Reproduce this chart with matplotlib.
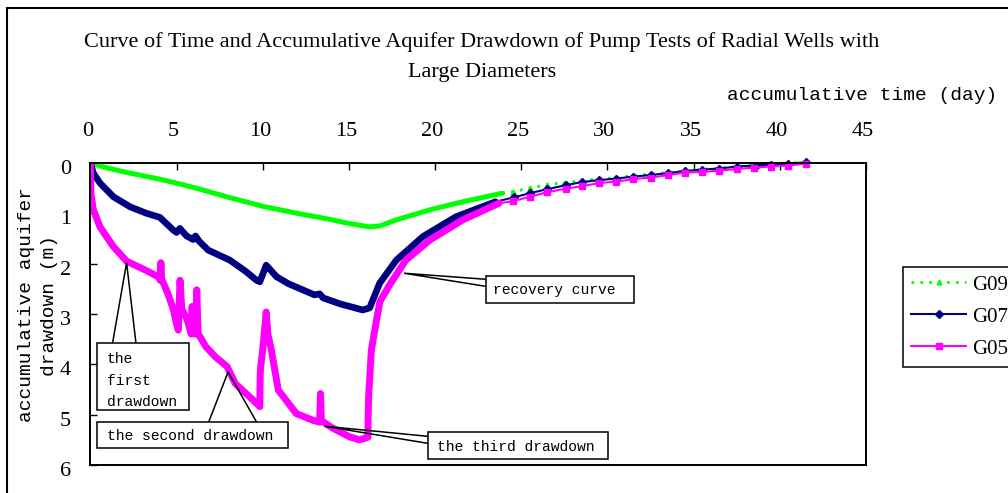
#Curvas de tiempo y abatimiento acumulado - pozos radiales G09, G07, G05
import numpy as np
import matplotlib
matplotlib.use("Agg")
from matplotlib import pyplot as plt
from matplotlib.patches import Rectangle, Polygon
from matplotlib.transforms import ScaledTranslation

plt.rcParams['font.family'] = ['Liberation Serif', 'DejaVu Serif']

#G09: pumping and early recovery records (dense), then daily readings
g09_t = [0, 1, 2, 3, 4, 5, 6.35, 8, 10, 12, 13.9, 15, 16.2, 16.8, 17.75, 19.7, 21.6, 23.9]
g09_s = [0, 0.1, 0.18, 0.25, 0.32, 0.4, 0.52, 0.68, 0.86, 1.0, 1.12, 1.2, 1.27, 1.25, 1.13, 0.93, 0.77, 0.6]
g09_day_t = [24.5, 25.5, 26.5, 27.5, 28.5, 29.5, 30.5, 31.5, 32.5, 33.5, 34.5, 35.5, 36.5, 37.5, 38.5, 39.5, 40.5, 41.5]
g09_day_s = [0.57, 0.50, 0.43, 0.39, 0.35, 0.32, 0.29, 0.25, 0.22, 0.19, 0.16, 0.13, 0.10, 0.07, 0.04, 0.02, 0.0, -0.02]

#G07
g07_t = [0, 0.17, 0.56, 1.33, 2.3, 3.26, 4.03, 4.8, 5.0, 5.19, 5.58, 5.96, 6.1, 6.3, 6.83, 8.09, 9.0,
         9.64, 9.83, 10.2, 10.8, 11.5, 13.0, 13.3, 13.5, 14.5, 15.8, 16.2, 16.78, 17.75, 19.3, 21.2, 23.5]
g07_s = [0, 0.2, 0.4, 0.67, 0.87, 1.0, 1.08, 1.33, 1.38, 1.3, 1.45, 1.52, 1.45, 1.55, 1.73, 1.93, 2.15,
         2.33, 2.36, 2.03, 2.26, 2.4, 2.62, 2.6, 2.68, 2.8, 2.92, 2.88, 2.39, 1.93, 1.46, 1.07, 0.77]
g07_day_t = [24.6, 25.5, 26.5, 27.6, 28.5, 29.5, 30.5, 31.5, 32.5, 33.5, 34.5, 35.5, 36.5, 37.5, 38.6, 39.5, 40.5, 41.5]
g07_day_s = [0.68, 0.6, 0.52, 0.44, 0.38, 0.34, 0.31, 0.27, 0.24, 0.2, 0.16, 0.13, 0.11, 0.07, 0.05, 0.03, 0.01, -0.01]

#G05
g05_t = [0, 0.01, 0.03, 0.17, 0.56, 1.33, 2.1, 3.26, 3.93, 4.05, 4.09, 4.13, 4.5, 4.8, 5.0, 5.1,
         5.2, 5.3, 5.6, 5.85, 5.9, 5.95, 6.1, 6.17, 6.25, 6.7, 7.25, 7.94, 8.4, 9.25, 9.83,
         9.85, 9.87, 10.0, 10.2, 10.3, 10.5, 10.9, 11.95, 12.9, 13.3, 13.35, 13.4, 14.07, 15.04,
         15.6, 16.1, 16.12, 16.15, 16.2, 16.3, 16.6, 16.8, 17.4, 18.3, 19.7, 21.6, 23.7]
g05_s = [0, 0.3, 0.6, 0.93, 1.27, 1.66, 1.95, 2.14, 2.26, 2.33, 1.98, 2.3, 2.6, 2.9, 3.2, 3.32,
         2.33, 2.9, 3.1, 3.4, 2.85, 3.2, 3.4, 2.52, 3.39, 3.65, 3.85, 4.05, 4.38, 4.65, 4.84,
         4.25, 4.08, 3.7, 2.96, 3.4, 3.72, 4.51, 4.98, 5.11, 5.15, 4.58, 5.12, 5.27, 5.44,
         5.5, 5.45, 4.98, 4.58, 4.31, 3.72, 3.12, 2.75, 2.4, 1.93, 1.53, 1.13, 0.8]
g05_day_t = [24.5, 25.5, 26.5, 27.6, 28.5, 29.5, 30.5, 31.5, 32.5, 33.5, 34.5, 35.5, 36.5, 37.5, 38.5, 39.5, 40.5, 41.5]
g05_day_s = [0.76, 0.67, 0.58, 0.51, 0.46, 0.40, 0.37, 0.32, 0.29, 0.24, 0.19, 0.18, 0.15, 0.12, 0.09, 0.07, 0.05, 0.01]

x_ticks = [0, 5, 10, 15, 20, 25, 30, 35, 40, 45]
y_ticks = [0, 1, 2, 3, 4, 5, 6]

W, H = 1008, 493
fig = plt.figure(figsize=(W / 100, H / 100), dpi=100)
ax = fig.add_axes([90.4 / W, (H - 465) / H, (866 - 90.4) / W, (465 - 163) / H])

series = [
    ('G09', g09_t, g09_s, g09_day_t, g09_day_s, '#00FF00', 3.6, '^', 3.5, (0, (1, 2.2))),
    ('G07', g07_t, g07_s, g07_day_t, g07_day_s, '#000080', 4.8, 'D', 3.8, '-'),
    ('G05', g05_t, g05_s, g05_day_t, g05_day_s, '#FF00FF', 5.0, 's', 4.6, '-'),
]
handles = []
for name, t, s, dt, ds, color, thick, mk, ms, ls in series:
    #dense records look like a thick band
    ax.plot(t, s, color=color, lw=thick, solid_joinstyle='round', solid_capstyle='round')
    #daily readings joined to the last dense record
    lt = [t[-1]] + dt
    lsv = [s[-1]] + ds
    line, = ax.plot(lt, lsv, color=color, lw=1.5 if ls == '-' else 2, ls=ls,
                    marker=mk, ms=ms, markevery=list(range(1, len(lt))),
                    clip_on=False, label=name)
    handles.append(line)

ax.set_xlim(0, 45)
ax.set_ylim(6, 0)
ax.set_xticks(x_ticks)
ax.set_yticks(y_ticks)
ax.xaxis.tick_top()
ax.tick_params(axis='x', direction='in', length=5, width=1, pad=16, labelsize=16,
               top=True, bottom=False)
ax.tick_params(axis='y', direction='in', length=5, width=1, pad=14, labelsize=16,
               left=True, right=False)
for lbl in ax.get_yticklabels():
    lbl.set_transform(lbl.get_transform() + ScaledTranslation(0, -0.04, fig.dpi_scale_trans))
for lbl in ax.get_xticklabels():
    lbl.set_transform(lbl.get_transform() + ScaledTranslation(-0.03, 0, fig.dpi_scale_trans))
for sp in ax.spines.values():
    sp.set_linewidth(1.4)

#callouts
mono = 'Liberation Mono'
boxes = [
    ('recovery curve', (22.93, 2.25, 31.55, 2.78), (23.38, 2.52), (18.2, 2.19), (22.93, 2.31), (22.93, 2.45)),
    ('the\nfirst\ndrawdown', (0.4, 3.57, 5.73, 4.9), (0.94, 4.33), (2.1, 1.98), (1.29, 3.57), (2.64, 3.57)),
    ('the second drawdown', (0.4, 5.14, 11.47, 5.66), (0.94, 5.43), (7.99, 4.15), (6.87, 5.14), (9.63, 5.14)),
    ('the third drawdown', (19.58, 5.35, 30.05, 5.88), (20.1, 5.64), (13.59, 5.23), (19.58, 5.43), (19.58, 5.57)),
]
for text, (x0, y0, x1, y1), (tx, ty), tip, b1, b2 in boxes:
    ax.add_patch(Polygon([b1, tip, b2], closed=False, fill=False, ec='black', lw=1.1, zorder=5))
    ax.add_patch(Rectangle((x0, y0), x1 - x0, y1 - y0, fc='white', ec='black', lw=1.1, zorder=6))
    ax.text(tx, ty, text, family=mono, fontsize=10.5, ha='left', va='center',
            linespacing=1.68, zorder=7)

#titulos y ejes
fig.text(482 / W, 1 - 57 / H, 'Curve of Time and Accumulative Aquifer Drawdown of Pump Tests of Radial Wells with\nLarge Diameters',
         ha='center', va='center', fontsize=16, linespacing=1.85)
fig.text(997 / W, 1 - 96 / H, 'accumulative time (day)', family=mono, fontsize=14,
         ha='right', va='center')
fig.text(38 / W, 1 - 305 / H, 'accumulative aquifer\ndrawdown (m)', family=mono, fontsize=14,
         rotation=90, ha='center', va='center', multialignment='center', linespacing=1.45)

leg = fig.legend(handles=handles, loc='upper left', bbox_to_anchor=(903 / W, 1 - 267 / H),
                 frameon=True, fancybox=False, edgecolor='black', framealpha=1,
                 borderaxespad=0, borderpad=0.38, handlelength=2.65, handletextpad=0.3,
                 labelspacing=0.6, prop={'family': 'Liberation Serif', 'size': 15})
leg.get_frame().set_linewidth(1.1)

#marco del grafico
fig.add_artist(Rectangle((7 / W, -0.1), 1.2, 1.1 - 8 / H, transform=fig.transFigure,
                         fill=False, ec='black', lw=1.5))

plt.savefig('out.png', dpi=100)
